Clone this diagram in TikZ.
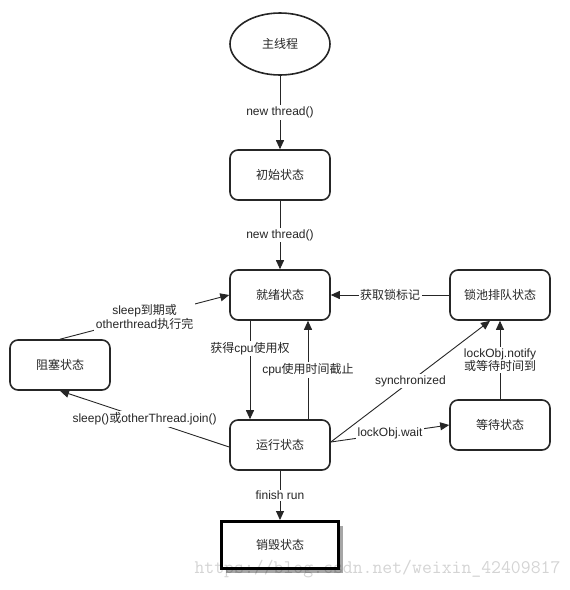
\documentclass[tikz,border=0pt]{standalone}
\usepackage{fontspec}
\setmainfont{Liberation Sans}
\newfontfamily\cjkfont{Noto Sans CJK SC}
\usetikzlibrary{shapes.geometric,arrows.meta,shadows}
\newcommand\zh[1]{{\cjkfont #1}}
\newcommand\txtsize{\fontsize{12}{13.5}\selectfont}
\begin{document}
\begin{tikzpicture}[x=1pt,y=-1pt,
  box/.style={draw=black!85, line width=1.6pt, rounded corners=8pt, minimum width=100pt, minimum height=50pt, font=\txtsize, text=black!85, fill=white},
  ell/.style={ellipse, draw=black!85, line width=1.6pt, minimum width=100pt, minimum height=62pt, font=\txtsize, text=black!85, fill=white},
  deadbox/.style={draw=black, line width=3pt, minimum width=117pt, minimum height=47pt, font=\txtsize, text=black!85, fill=white, drop shadow={shadow xshift=4pt, shadow yshift=-4pt, fill=black!35, opacity=1}},
  conn/.style={draw=black!85, line width=0.9pt, -{Triangle[length=9pt,width=8pt]}},
  lbl/.style={fill=white, inner sep=1.5pt, font=\txtsize, text=black!85}]
\useasboundingbox (0,0) rectangle (570,590);
\fill[white] (0,0) rectangle (570,590);
\node[ell] (main) at (280,44) {\zh{主线程}};
\node[box] (init) at (280,175) {\zh{初始状态}};
\node[box] (ready) at (280,295) {\zh{就绪状态}};
\node[box] (block) at (60,365) {\zh{阻塞状态}};
\node[box] (pool) at (500,295) {\zh{锁池排队状态}};
\node[box] (wait) at (500,425) {\zh{等待状态}};
\node[box] (run) at (280,445) {\zh{运行状态}};
\node[deadbox] (dead) at (280,545) {\zh{销毁状态}};
\draw[conn] (main) -- node[lbl] (l1) {new thread()} (init);
\draw[conn] (init) -- node[lbl] (l2) {new thread()} (ready);
\draw[conn] ([xshift=-30pt]ready.south) -- node[lbl, pos=0.28] (l3) {\zh{获得}cpu\zh{使用权}} ([xshift=-30pt]run.north);
\draw[conn] ([xshift=28pt]run.north) -- node[lbl] (l4) {cpu\zh{使用时间截止}} ([xshift=28pt]ready.south);
\draw[conn] (pool) -- node[lbl] (l5) {\zh{获取锁标记}} (ready);
\draw[conn] (block.north) -- node[lbl, align=center] (l6) {sleep\zh{到期或}\\otherthread\zh{执行完}} (ready.west);
\draw[conn] ([yshift=-2pt]run.west) -- node[lbl] (l7) {sleep()\zh{或}otherThread.join()} (block.south);
\draw[conn] ([yshift=3pt]run.east) -- node[lbl] (l8) {synchronized} ([xshift=-10pt]pool.south);
\draw[conn] ([yshift=3pt]run.east) -- node[lbl] (l9) {lockObj.wait} (wait.west);
\draw[conn] (wait) -- node[lbl, align=center] (l10) {lockObj.notify\\\zh{或等待时间到}} (pool);
\draw[conn] (run) -- node[lbl] (l11) {finish run} (dead);
\node[text=black, text opacity=0.17, font=\ttfamily\fontsize{19.2}{20}\selectfont] (wm) at (377.5,569) {https://blog.csdn.net/weixin\_42409817};
\end{tikzpicture}
\end{document}
